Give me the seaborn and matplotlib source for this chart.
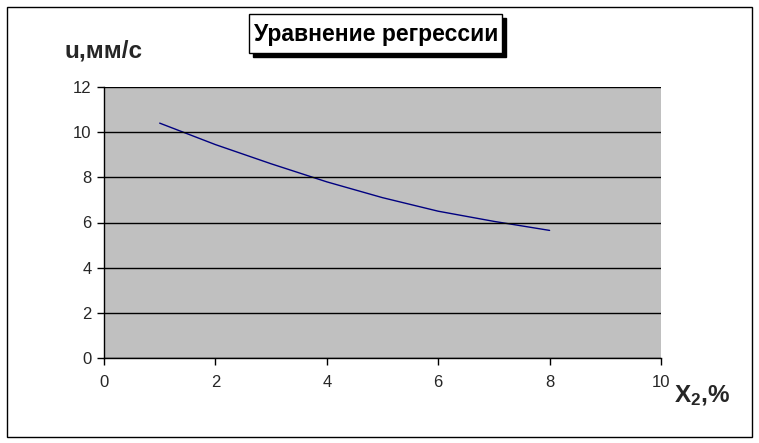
"""Regression equation chart: u vs X2."""
import matplotlib
matplotlib.use('Agg')
import matplotlib.pyplot as plt
import seaborn as sns
import pandas as pd
from matplotlib.patches import Rectangle

# data
x2 = [1, 2, 3, 4, 5, 6, 7, 8]
u = [10.4, 9.45, 8.6, 7.8, 7.1, 6.5, 6.05, 5.65]
x_ticks = [0, 2, 4, 6, 8, 10]
y_ticks = [0, 2, 4, 6, 8, 10, 12]

sns.set_style('white')
plt.rcParams['font.family'] = ['Liberation Sans', 'DejaVu Sans']
plt.rcParams['mathtext.fontset'] = 'custom'
plt.rcParams['mathtext.rm'] = 'Liberation Sans'
plt.rcParams['mathtext.bf'] = 'Liberation Sans:bold'

df = pd.DataFrame({'x2': x2, 'u': u})

W, H = 759, 443
fig = plt.figure(figsize=(W / 100, H / 100), dpi=100)
ax = fig.add_axes([104 / W, 85 / H, 557 / W, 271 / H])
ax.set_facecolor('#c0c0c0')

sns.lineplot(data=df, x='x2', y='u', color='#000080', linewidth=1.0, ax=ax)

ax.set_xlim(0, 10)
ax.set_ylim(0, 12)
ax.set_xticks(x_ticks)
ax.set_yticks(y_ticks)
ax.set_xlabel('')
ax.set_ylabel('')
ax.yaxis.grid(True, color='black', linewidth=1.0)
ax.set_axisbelow(False)
ax.tick_params(axis='both', direction='out', length=5, width=1, color='black',
               labelsize=12, left=True, bottom=True)
ax.tick_params(axis='x', pad=7)
ax.tick_params(axis='y', pad=4)
for side in ['top', 'right']:
    ax.spines[side].set_visible(False)
for side in ['left', 'bottom']:
    ax.spines[side].set_color('black')
    ax.spines[side].set_linewidth(1.0)

# axis captions
fig.text(65 / W, 1 - 51 / H, 'u,мм/с', fontsize=17.5, fontweight='bold',
         ha='left', va='center')
fig.text(674 / W, 1 - 396 / H, r'$\mathbf{X_2}$,%', fontsize=17.5,
         fontweight='bold', ha='left', va='center')

# title box with shadow
fig.patches.append(Rectangle((253 / W, 1 - 57 / H), 253 / W, 39 / H,
                             transform=fig.transFigure, facecolor='black',
                             edgecolor='black', linewidth=1.0))
fig.patches.append(Rectangle((249 / W, 1 - 53 / H), 253 / W, 39 / H,
                             transform=fig.transFigure, facecolor='white',
                             edgecolor='black', linewidth=1.0))
fig.text(376 / W, 1 - 34 / H, 'Уравнение регрессии', fontsize=16.5,
         fontweight='bold', ha='center', va='center', color='black')

# outer frame
fig.patches.append(Rectangle((7 / W, 1 - 437 / H), 745 / W, 430 / H,
                             transform=fig.transFigure, fill=False,
                             edgecolor='black', linewidth=1.0))

fig.savefig('out.png', dpi=100)
